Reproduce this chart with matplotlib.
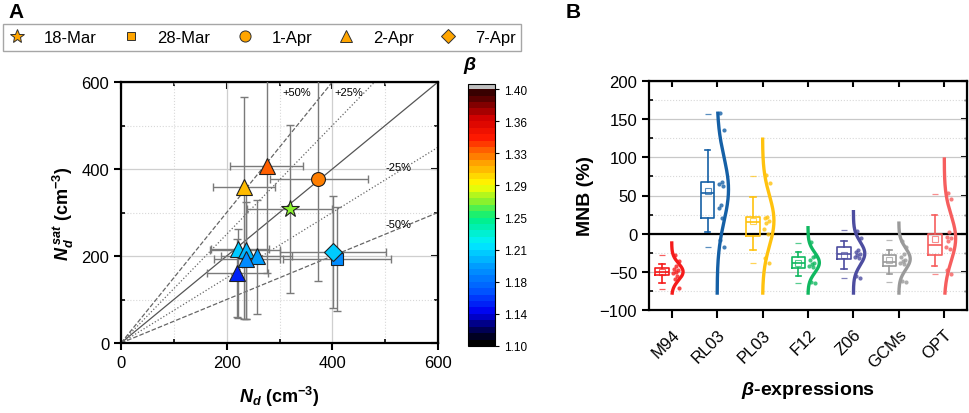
import numpy as np
import matplotlib
matplotlib.use('Agg')
import matplotlib.pyplot as plt
from matplotlib.colors import LinearSegmentedColormap, ListedColormap, Normalize
from matplotlib.lines import Line2D
from matplotlib.ticker import MultipleLocator

plt.rcParams['font.family'] = ['Liberation Sans', 'DejaVu Sans']
plt.rcParams['mathtext.fontset'] = 'custom'
plt.rcParams['mathtext.rm'] = 'Liberation Sans'
plt.rcParams['mathtext.it'] = 'Liberation Sans:italic'
plt.rcParams['mathtext.bf'] = 'Liberation Sans:bold'
plt.rcParams['mathtext.bfit'] = 'Liberation Sans:italic:bold'

# ---------------- Panel A data ----------------
dates = ['18-Mar', '28-Mar', '1-Apr', '2-Apr', '7-Apr']
point_date = ['18-Mar', '28-Mar', '1-Apr', '2-Apr', '2-Apr', '2-Apr',
              '2-Apr', '2-Apr', '2-Apr', '2-Apr', '7-Apr']
nd = [319, 409, 373, 277, 233, 222, 237, 257, 237, 219, 402]
nd_lo = [238, 307, 282, 206, 175, 170, 168, 190, 176, 163, 300]
nd_hi = [400, 511, 468, 345, 292, 280, 300, 324, 300, 278, 501]
nsat = [309, 193, 378, 407, 359, 216, 213, 200, 193, 162, 209]
nsat_lo = [116, 73, 143, 162, 55, 58, 55, 67, 55, 59, 80]
nsat_hi = [501, 313, 700, 720, 566, 262, 344, 328, 323, 240, 339]
beta = [1.27, 1.185, 1.32, 1.33, 1.305, 1.207, 1.20, 1.195, 1.19, 1.15, 1.205]
ratio_lines = [1.5, 1.25, 0.75, 0.5]
ratio_labels = ['+50%', '+25%', '-25%', '-50%']
cbar_ticklabels = ['1.10', '1.14', '1.18', '1.21', '1.25', '1.29', '1.33', '1.36', '1.40']

# ---------------- Panel B data ----------------
exprs = ['M94', 'RL03', 'PL03', 'F12', 'Z06', 'GCMs', 'OPT']
mnb_points = [
    [-28, -36, -42, -46, -48, -50, -52, -55, -60, -71],
    [158, 136, 68, 65, 63, 38, 34, 20, -8, -18],
    [77, 66, 22, 20, 16, 14, 6, -1, -32, -38],
    [-11, -29, -31, -34, -38, -40, -42, -44, -63, -65],
    [4, -6, -21, -24, -27, -28, -30, -32, -55, -58],
    [-9, -18, -26, -30, -34, -36, -38, -40, -62, -63],
    [53, 46, 2, -4, -6, -9, -17, -20, -47, -53],
]
box_q1 = [-54, 20, -2.6, -45, -33, -42, -28]
box_med = [-50, 53.5, 15, -38.6, -26, -37, -14.5]
box_q3 = [-45, 67.5, 22, -30.7, -17.5, -27.6, -0.5]
box_mean = [-50, 56, 17, -38, -28, -35, -7]
box_wlo = [-64, 2, -22, -55, -46.5, -52.6, -42]
box_whi = [-39.5, 109, 48, -24.6, -10, -21, 24]
box_min = [-72, -18, -38, -65, -57.5, -62.7, -53]
box_max = [-28.5, 157, 76, -12, 4.4, -8.8, 52]
curve_mu = [-50, 58, 17, -38, -26, -33, -6]
curve_sd = [11, 42, 33, 13, 15, 14, 30]
curve_top = [-10, 160, 126, 10, 31, 16, 100]
curve_bottom = -80

colorsB = ['#F51B1B', '#1560A6', '#FFC20E', '#10B860', '#4D4DA0', '#9A9A9A', '#F65E5E']
marker_map = {'18-Mar': '*', '28-Mar': 's', '1-Apr': 'o', '2-Apr': '^', '7-Apr': 'D'}
msize_map = {'18-Mar': 13, '28-Mar': 8, '1-Apr': 10, '2-Apr': 11, '7-Apr': 9}

# colormap (Origin-like rainbow)
nodes = [(0.0, '#000000'), (0.04, '#00003A'), (0.12, '#0000F0'), (0.2, '#0050FF'),
         (0.3, '#0098FF'), (0.4, '#00F0FF'), (0.5, '#00F080'), (0.56, '#80F030'),
         (0.63, '#FFFF00'), (0.72, '#FFA000'), (0.82, '#FF1A00'), (0.9, '#D00000'),
         (0.96, '#700000'), (1.0, '#380000')]
base = LinearSegmentedColormap.from_list('orig', nodes)
cmap = ListedColormap(base(np.linspace(0, 1, 40)))
cmap.set_over('#C0C0C0')
norm = Normalize(1.10, 1.40)

fig = plt.figure(figsize=(9.69, 4.14), dpi=100)
W, H = 969, 414

def axrect(x0, y0, x1, y1):
    return [x0 / W, 1 - y1 / H, (x1 - x0) / W, (y1 - y0) / H]

# ================= Panel A =================
axA = fig.add_axes(axrect(121, 83, 438, 344))
axA.set_xlim(0, 600)
axA.set_ylim(0, 600)
axA.xaxis.set_major_locator(MultipleLocator(200))
axA.xaxis.set_minor_locator(MultipleLocator(100))
axA.yaxis.set_major_locator(MultipleLocator(200))
axA.yaxis.set_minor_locator(MultipleLocator(100))
axA.grid(which='major', color='#CFCFCF', lw=0.9, ls='-', zorder=0)
axA.grid(which='minor', color='#D8D8D8', lw=0.8, ls=':', zorder=0)
axA.set_axisbelow(True)

xx = np.array([0, 600])
axA.plot(xx, xx, color='#555555', lw=0.9, zorder=1)
for r in ratio_lines:
    ls = '--' if r in (1.5, 0.5) else ':'
    axA.plot(xx, r * xx, color='#666666', lw=0.9, ls=ls, zorder=1)
lab_pos = [(332, 578), (432, 578), (526, 405), (526, 273)]
for (lx, ly), t in zip(lab_pos, ratio_labels):
    axA.text(lx, ly, t, fontsize=8, ha='center', va='center', zorder=2)

nd_a = np.array(nd); ns_a = np.array(nsat)
xerr = [nd_a - np.array(nd_lo), np.array(nd_hi) - nd_a]
yerr = [ns_a - np.array(nsat_lo), np.array(nsat_hi) - ns_a]
axA.errorbar(nd_a, ns_a, xerr=xerr, yerr=yerr, fmt='none', ecolor='#7A7A7A',
             elinewidth=1.0, capsize=3, capthick=1.0, zorder=3)
for i in range(len(nd)):
    d = point_date[i]
    axA.plot(nd[i], nsat[i], marker=marker_map[d], ms=msize_map[d],
             mfc=cmap(norm(beta[i])), mec='#202020', mew=0.8, ls='none', zorder=5)

for sp in axA.spines.values():
    sp.set_linewidth(1.6)
axA.tick_params(which='major', direction='out', length=5, width=1.5, labelsize=12)
axA.tick_params(which='minor', direction='in', length=3, width=1.2)
secx = axA.secondary_xaxis('top')
secx.xaxis.set_major_locator(MultipleLocator(200))
secx.xaxis.set_minor_locator(MultipleLocator(100))
secx.tick_params(which='major', direction='in', length=5, width=1.5, labeltop=False)
secx.tick_params(which='minor', direction='in', length=3, width=1.2)
secy = axA.secondary_yaxis('right')
secy.yaxis.set_major_locator(MultipleLocator(200))
secy.yaxis.set_minor_locator(MultipleLocator(100))
secy.tick_params(which='major', direction='in', length=5, width=1.5, labelright=False)
secy.tick_params(which='minor', direction='in', length=3, width=1.2)

axA.set_xlabel(r'$\mathbfit{N_d}$ $\mathbf{(cm^{-3})}$', fontsize=13, labelpad=10)
axA.set_ylabel(r'$\mathbfit{N_d^{\ sat}}$ $\mathbf{(cm^{-3})}$', fontsize=13, labelpad=4)

# colorbar
cax = fig.add_axes(axrect(468, 85, 495, 347))
sm = plt.cm.ScalarMappable(norm=norm, cmap=cmap)
cb = fig.colorbar(sm, cax=cax, extend='max', extendrect=True, extendfrac=0.02)
cb.outline.set_linewidth(0.8)
cb.set_ticks(np.linspace(1.10, 1.40, 9))
cb.set_ticklabels(cbar_ticklabels)
cax.tick_params(labelsize=8.5, length=3, width=0.8)
fig.text(470 / W, 1 - 66 / H, r'$\mathbfit{\beta}$', fontsize=14, ha='center', va='center')

# legend
handles = [Line2D([], [], marker=marker_map[d], ms=msize_map[d] * 0.8, mfc='#FFA500',
                  mec='#303030', mew=0.7, ls='none') for d in dates]
leg = fig.legend(handles, dates, loc='upper left', bbox_to_anchor=(3 / W, 1 - 25 / H),
                 ncol=5, frameon=True, fancybox=False, edgecolor='#909090', fontsize=12,
                 handlelength=1.0, handletextpad=1.1, columnspacing=1.55,
                 borderpad=0.35, borderaxespad=0)
leg.get_frame().set_linewidth(1.0)

fig.text(8 / W, 1 - 3 / H, 'A', fontsize=15, fontweight='bold', va='top')
fig.text(566 / W, 1 - 3 / H, 'B', fontsize=15, fontweight='bold', va='top')

# ================= Panel B =================
axB = fig.add_axes(axrect(649, 82, 967, 311))
pos = np.arange(1, len(exprs) + 1)
axB.set_xlim(0.5, len(exprs) + 0.5)
axB.set_ylim(-100, 200)
axB.yaxis.set_major_locator(MultipleLocator(50))
axB.yaxis.set_minor_locator(MultipleLocator(25))
axB.grid(axis='y', which='major', color='#C8C8C8', lw=0.9, ls='-')
axB.grid(axis='y', which='minor', color='#D8D8D8', lw=0.8, ls=':')
axB.set_axisbelow(True)
axB.axhline(0, color='black', lw=1.6, zorder=2)

for i, c in enumerate(colorsB):
    p = pos[i]
    stats = [dict(med=box_med[i], q1=box_q1[i], q3=box_q3[i], mean=box_mean[i],
                  whislo=box_wlo[i], whishi=box_whi[i], fliers=[box_min[i], box_max[i]])]
    axB.bxp(stats, positions=[p - 0.21], widths=0.3, showmeans=True, capwidths=0.12,
            boxprops=dict(color=c, lw=1.2), whiskerprops=dict(color=c, lw=1.2),
            capprops=dict(color=c, lw=1.2), medianprops=dict(color=c, lw=1.2),
            meanprops=dict(marker='s', mfc='none', mec=c, ms=4, mew=0.8, alpha=0.7),
            flierprops=dict(marker='_', mec=c, ms=5, mew=0.9, alpha=0.7),
            manage_ticks=False, zorder=4)
    yy = np.linspace(curve_bottom, curve_top[i], 200)
    xc = p + 0.25 * np.exp(-(yy - curve_mu[i]) ** 2 / (2 * curve_sd[i] ** 2))
    axB.plot(xc, yy, color=c, lw=2.4, zorder=5, solid_capstyle='butt')
    pts = mnb_points[i]
    offs = [0.03 + 0.14 * ((k * 0.618 + 0.3) % 1) for k in range(len(pts))]
    axB.scatter(p + np.array(offs), pts, s=9, color=c, alpha=0.8, zorder=6, lw=0)

for sp in axB.spines.values():
    sp.set_linewidth(1.6)
axB.set_xticks(pos)
axB.set_xticklabels(exprs, rotation=45, ha='right', rotation_mode='anchor', fontsize=12)
axB.tick_params(axis='x', direction='out', length=6, width=1.5, pad=6)
axB.tick_params(axis='y', which='major', direction='out', length=5, width=1.5, labelsize=12)
axB.tick_params(axis='y', which='minor', direction='in', length=3, width=1.2)
sbx = axB.secondary_xaxis('top')
sbx.set_xticks(pos)
sbx.tick_params(direction='in', length=4, width=1.5, labeltop=False)
sby = axB.secondary_yaxis('right')
sby.yaxis.set_major_locator(MultipleLocator(50))
sby.yaxis.set_minor_locator(MultipleLocator(25))
sby.tick_params(which='major', direction='in', length=4, width=1.5, labelright=False)
sby.tick_params(which='minor', direction='in', length=2.5, width=1.0)
axB.set_ylabel('MNB (%)', fontsize=14, fontweight='bold', labelpad=4)
axB.set_xlabel(r'$\mathbfit{\beta}$-expressions', fontsize=14, fontweight='bold', labelpad=6)

fig.savefig('out.png', dpi=100)
